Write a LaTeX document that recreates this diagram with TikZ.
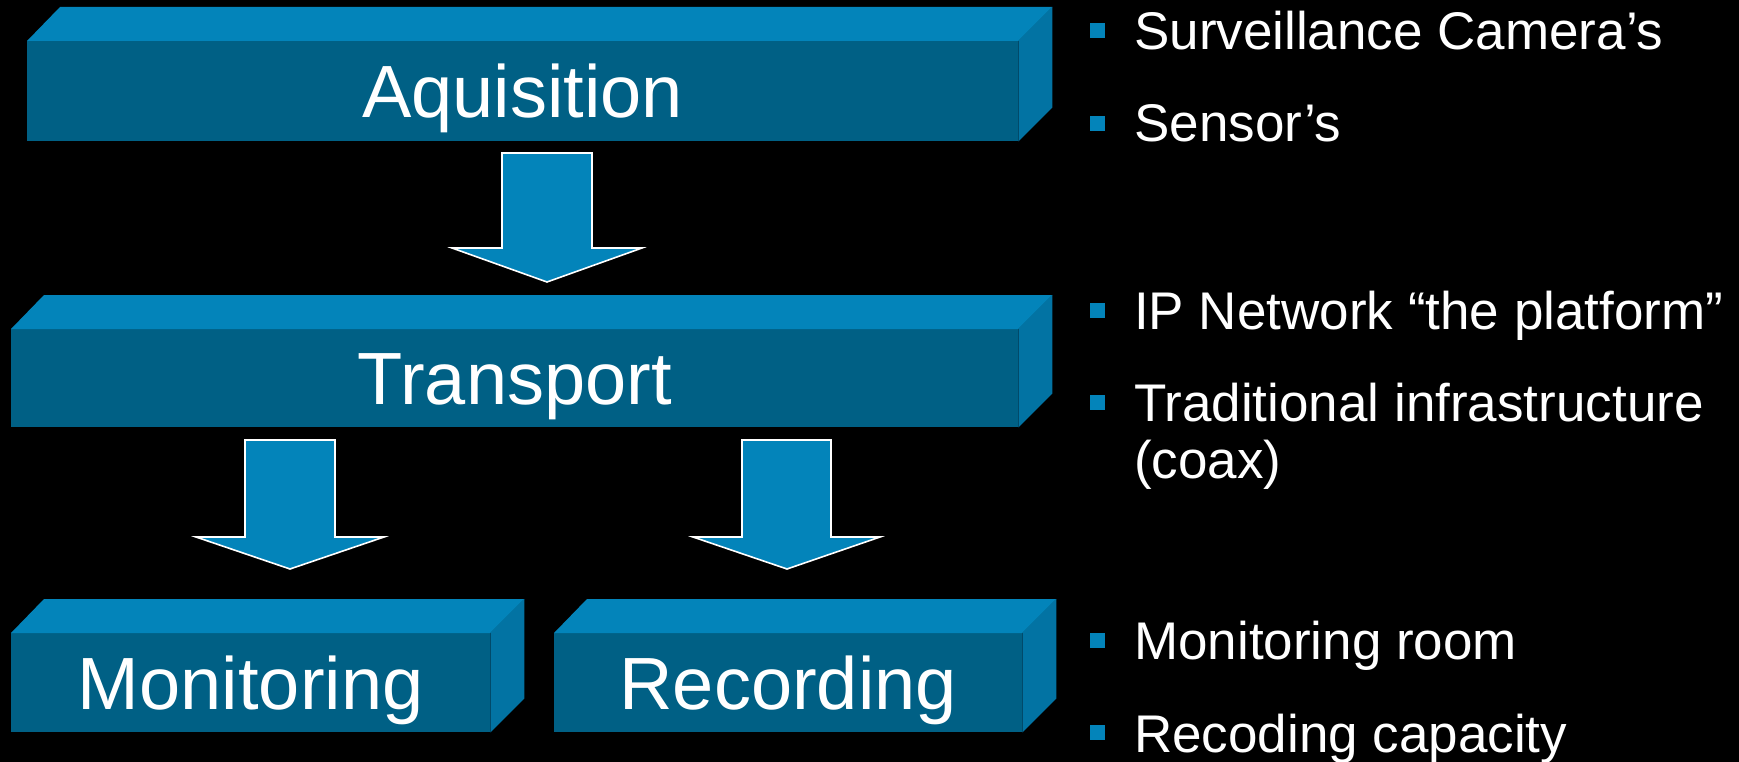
\documentclass[tikz,border=0pt]{standalone}
\usepackage{fontspec}
\setmainfont{Liberation Sans}
\definecolor{topc}{RGB}{3,132,186}
\definecolor{frontc}{RGB}{0,96,133}
\definecolor{sidec}{RGB}{2,115,163}
\definecolor{arrc}{RGB}{3,132,186}
\begin{document}
\begin{tikzpicture}[x=1pt,y=-1pt,
  face/.style={fill=frontc, draw=none, anchor=north west, inner sep=0pt,
     text=white, font=\fontsize{74}{80}\selectfont, text height=53pt, text depth=0pt},
  topface/.style={fill=topc, draw=none},
  sideface/.style={fill=sidec, draw=none},
  blockarrow/.style={fill=arrc, draw=white, line width=1.6pt, line join=miter},
  bullettext/.style={anchor=base west, inner sep=0pt, text=white, font=\fontsize{53}{57}\selectfont},
  bulletsq/.style={fill=topc, draw=none, minimum width=15pt, minimum height=15pt, inner sep=0pt}
]
\fill[black] (0,0) rectangle (1739,762);
\useasboundingbox (0,0) rectangle (1739,762);

% Boxes
\newcommand{\mybox}[6]{%
  \node[face, minimum width=#3, minimum height=#4] (#5) at (#1,#2) {#6};
  \fill[topface] (#5.north west) -- ++(33,-34) -- ([shift={(34,-34)}]#5.north east) -- (#5.north east) -- cycle;
  \fill[sideface] (#5.north east) -- ++(34,-34) -- ([shift={(34,-34)}]#5.south east) -- (#5.south east) -- cycle;
}
\mybox{27}{41}{991pt}{100pt}{acq}{Aquisition}
\mybox{11}{329}{1007pt}{98pt}{trans}{Transport}
\mybox{11}{633}{479pt}{99pt}{mon}{Monitoring}
\mybox{554}{633}{468pt}{99pt}{rec}{Recording}

% Block arrows
\coordinate (a1) at (547,282);
\coordinate (a2) at (290,569);
\coordinate (a3) at (787,569);
\draw[blockarrow] (502,153) -- (592,153) -- (592,248) -- (642,248) -- (a1) -- (452,248) -- (502,248) -- cycle;
\draw[blockarrow] (245,440) -- (335,440) -- (335,537) -- (384,537) -- (a2) -- (196,537) -- (245,537) -- cycle;
\draw[blockarrow] (742,440) -- (831,440) -- (831,537) -- (880,537) -- (a3) -- (693,537) -- (742,537) -- cycle;

% Bullets
\node[bulletsq] (b1) at (1097,31) {};
\node[bullettext] (t1) at (1134,50) {Surveillance Camera’s};
\node[bulletsq] (b2) at (1097,124) {};
\node[bullettext] (t2) at (1134,142) {Sensor’s};
\node[bulletsq] (b3) at (1097,310) {};
\node[bullettext] (t3) at (1134,329) {IP Network “the platform”};
\node[bulletsq] (b4) at (1097,402) {};
\node[bullettext] (t4) at (1134,421) {Traditional infrastructure};
\node[bullettext] (t4b) at (1134,478) {(coax)};
\node[bulletsq] (b5) at (1097,640) {};
\node[bullettext] (t5) at (1134,659) {Monitoring room};
\node[bulletsq] (b6) at (1097,732) {};
\node[bullettext] (t6) at (1134,752) {Recoding capacity};
\end{tikzpicture}
\end{document}
